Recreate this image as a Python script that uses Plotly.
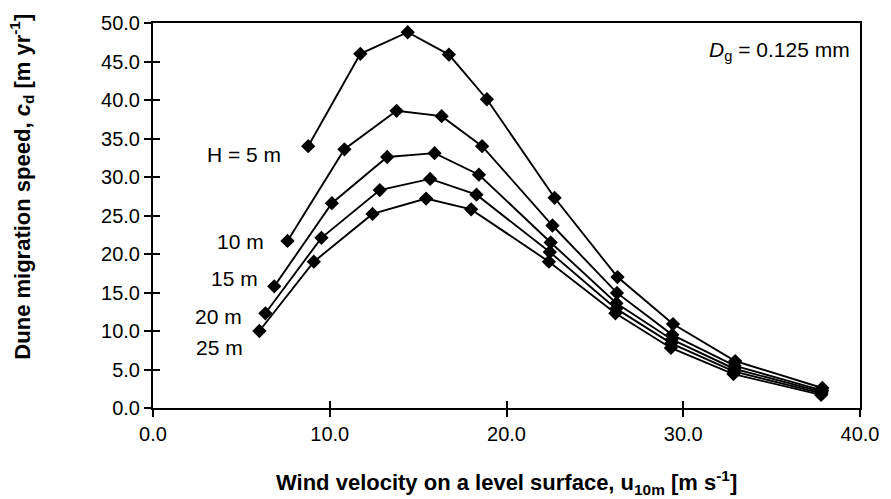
import plotly.graph_objects as go

# Wind velocity u10m [m/s] and dune migration speed c_d [m/yr] per dune height H
x_h5 = [8.78, 11.73, 14.41, 16.74, 18.89, 22.72, 26.28, 29.42, 32.94, 37.87]
y_h5 = [34.0, 46.0, 48.8, 45.9, 40.1, 27.3, 17.0, 10.9, 6.1, 2.6]
x_h10 = [7.61, 10.83, 13.78, 16.33, 18.62, 22.60, 26.25, 29.38, 32.90, 37.85]
y_h10 = [21.7, 33.6, 38.6, 37.9, 34.0, 23.7, 14.95, 9.5, 5.5, 2.3]
x_h15 = [6.86, 10.12, 13.25, 15.93, 18.44, 22.50, 26.22, 29.35, 32.88, 37.83]
y_h15 = [15.8, 26.6, 32.6, 33.1, 30.3, 21.5, 13.6, 8.9, 5.1, 2.1]
x_h20 = [6.36, 9.53, 12.83, 15.68, 18.30, 22.45, 26.20, 29.32, 32.86, 37.82]
y_h20 = [12.3, 22.1, 28.3, 29.75, 27.7, 20.25, 12.9, 8.4, 4.75, 1.9]
x_h25 = [6.02, 9.10, 12.42, 15.45, 18.00, 22.40, 26.16, 29.30, 32.84, 37.80]
y_h25 = [10.0, 19.0, 25.2, 27.2, 25.8, 19.0, 12.3, 7.8, 4.4, 1.7]

series_names = ["H = 5 m", "10 m", "15 m", "20 m", "25 m"]
series_x = [x_h5, x_h10, x_h15, x_h20, x_h25]
series_y = [y_h5, y_h10, y_h15, y_h20, y_h25]
x_ticks = [0, 10, 20, 30, 40]
y_ticks = [0, 5, 10, 15, 20, 25, 30, 35, 40, 45, 50]

FONT = "Liberation Sans, Arial, sans-serif"

fig = go.Figure()
for name, xs, ys in zip(series_names, series_x, series_y):
    fig.add_trace(go.Scatter(
        x=xs, y=ys, mode="lines+markers", name=name,
        line=dict(color="black", width=1.9),
        marker=dict(symbol="diamond", size=11, color="black"),
        showlegend=False,
    ))

# series labels beside each series' first point (shift in pixels)
label_shift = [(-25, -8), (-22, -1), (-14, 8), (-21, -3), (-14, -16)]
for name, xs, ys, (dx, dy) in zip(series_names, series_x, series_y, label_shift):
    fig.add_annotation(x=xs[0], y=ys[0], text=name, showarrow=False,
                       xanchor="right", yanchor="middle", xshift=dx, yshift=dy,
                       font=dict(family=FONT, size=21, color="black"))

fig.add_annotation(xref="paper", yref="paper", x=0.988, y=0.927,
                   text="<i>D</i><sub>g</sub> = 0.125 mm", showarrow=False,
                   xanchor="right", yanchor="middle",
                   font=dict(family=FONT, size=21, color="black"))

# axis titles
fig.add_annotation(xref="paper", yref="paper", x=0.5, y=0, yshift=-74,
                   xanchor="center", yanchor="middle", showarrow=False,
                   text="<b>Wind velocity on a level surface, u<sub>10m</sub> [m s<sup>-1</sup>]</b>",
                   font=dict(family=FONT, size=22, color="black"))
fig.add_annotation(xref="paper", yref="paper", x=0, xshift=-131, y=0.575,
                   xanchor="center", yanchor="middle", showarrow=False, textangle=-90,
                   text="<b>Dune migration speed, <i>c</i><sub>d</sub> [m yr<sup>-1</sup>]</b>",
                   font=dict(family=FONT, size=22, color="black"))

axis_common = dict(showgrid=False, zeroline=False, showline=True,
                   linecolor="black", linewidth=2, mirror=True,
                   ticks="outside", tickcolor="black", tickwidth=2, ticklen=7,
                   tickfont=dict(family=FONT, size=20, color="black"))

fig.update_layout(
    width=891, height=499,
    margin=dict(l=153, r=23, t=22, b=91),
    paper_bgcolor="white", plot_bgcolor="white",
    xaxis=dict(range=[0, 40], tickvals=x_ticks, tickformat=".1f", **axis_common),
    yaxis=dict(range=[0, 50], tickvals=y_ticks, tickformat=".1f", **axis_common),
    xaxis2=dict(range=[0, 40], tickvals=x_ticks, overlaying="x", matches="x",
                showticklabels=False, showgrid=False, zeroline=False, showline=False,
                ticks="inside", tickcolor="black", tickwidth=2, ticklen=7, side="bottom"),
    yaxis2=dict(range=[0, 50], tickvals=y_ticks, overlaying="y", matches="y",
                showticklabels=False, showgrid=False, zeroline=False, showline=False,
                ticks="inside", tickcolor="black", tickwidth=2, ticklen=7, side="left"),
)
# invisible trace so the overlay axes (inner tick halves) are drawn
fig.add_trace(go.Scatter(x=[None], y=[None], xaxis="x2", yaxis="y2",
                         showlegend=False, hoverinfo="skip"))

fig.write_html("out.html")
